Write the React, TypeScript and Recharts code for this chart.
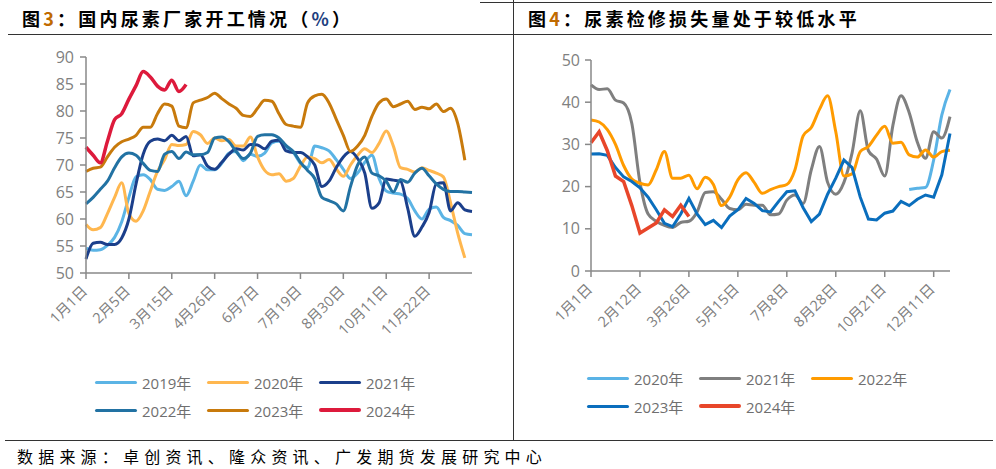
import { LineChart, Line, XAxis, YAxis } from 'recharts';

// 图3 横轴（周度）
const leftDates = [
  '1月1日', '1月8日', '1月15日', '1月22日', '1月29日', '2月1日', '2月5日', '2月12日', '2月19日', '2月26日',
  '3月1日', '3月8日', '3月15日', '3月22日', '3月29日', '4月5日', '4月12日', '4月19日', '4月26日', '5月3日',
  '5月10日', '5月17日', '5月24日', '5月31日', '6月7日', '6月14日', '6月21日', '6月28日', '7月5日', '7月12日',
  '7月19日', '7月26日', '8月2日', '8月9日', '8月16日', '8月23日', '8月30日', '9月6日', '9月13日', '9月20日',
  '9月27日', '10月4日', '10月11日', '10月18日', '10月25日', '11月1日', '11月8日', '11月15日', '11月22日', '11月29日',
  '12月6日', '12月13日', '12月20日', '12月27日', '12月31日',
];
const leftTickDates = ['1月1日', '2月5日', '3月15日', '4月26日', '6月7日', '7月19日', '8月30日', '10月11日', '11月22日'];

const rate2019 = [
  54.6, 54.2, 54.3, 55.1, 56.6, 59.5, 64, 67.8, 68.2, 67.3, 65.5, 65.3, 66, 67, 64.3, 67, 70, 69.1, 69.1, 70.3,
  72.2, 72.5, 70.8, 72, 71.6, 72.2, 74.1, 74.4, 73.3, 72.3, 70.3, 69.5, 73.5, 73.2, 72.6, 71, 69.2, 67.5, 68.5, 70.5,
  71.8, 67.5, 65.2, 64.8, 64.6, 63.8, 61.5, 60, 61.8, 62.2, 60.3, 59.7, 58.8, 57.3, 57.1,
];
const rate2020 = [
  59, 58, 58.4, 61, 64, 66.7, 61, 59.6, 61.5, 65.2, 68.8, 71, 73.8, 73.6, 73.8, 76.2, 75.6, 74, 75, 74.5,
  74.7, 73.5, 73.5, 75.2, 71.5, 69, 68.2, 68.4, 67, 67.5, 69.8, 71.5, 71.2, 70.4, 71, 69.3, 67.9, 70, 71.8, 73,
  72.3, 74, 76.3, 73.5, 69.5, 69.2, 68.7, 69.5, 69, 68.5, 67.8, 63, 57.4, 52.8, null,
];
const rate2021 = [
  52.6, 55.5, 55.7, 55.3, 55.3, 56.5, 60, 66.5, 72, 74.4, 74.8, 74.5, 75.5, 74.5, 75.3, 71.7, 71.9, 69.8, 69.2, 70.5,
  72, 73, 72.8, 73.8, 73.7, 73, 74.4, 74.6, 72.6, 72.3, 72.3, 71.5, 70, 66, 67, 69.5, 71.5, 72.5, 71.2, 68.5,
  62, 63, 67.4, 67.2, 67, 62, 56.8, 58.5, 61.2, 66.5, 66.7, 61.5, 63, 61.7, 61.4,
];
const rate2022 = [
  62.8, 64, 65.5, 67, 69.5, 71.5, 72.2, 71.8, 70.3, 69, 68.8, 72, 72.5, 71.2, 72.4, 71.9, 71.9, 72.3, 75, 75.2,
  74.3, 72.5, 71.2, 72.2, 75.3, 75.6, 75.6, 75, 73.6, 72.5, 70.5, 69, 67.5, 64, 63.4, 62.8, 61.5, 66, 70, 71.5,
  68.5, 68, 67, 65, 67.3, 66.8, 68.5, 69.4, 68, 66.5, 65.5, 65.1, 65.1, 65, 64.9,
];
const rate2023 = [
  68.8, 69.4, 69.6, 71.5, 73.3, 74.3, 74.8, 75.5, 77, 77, 79.5, 81.3, 80.9, 77.2, 76.9, 81.5, 82, 82.5, 83.3, 82.3,
  81.3, 80.5, 79.2, 79, 80.5, 82, 81.8, 79.5, 77.5, 77.2, 77, 81.5, 82.8, 83.1, 81.5, 78.5, 75.5, 72.5, 73.5, 75.5,
  79, 81.5, 82.2, 80.8, 81.3, 81.8, 80.3, 80.7, 80.4, 81.3, 79.9, 80.5, 77.7, 70.9, null,
];
const rate2024 = [73.3, 71.8, 70.4, 74.4, 78.4, 79.5, 82.2, 84.7, 87.3, 86.3, 84.6, 83.9, 85.7, 83.6, 84.9];

// 图4 横轴
const rightDates = [
  '1月1日', '1月8日', '1月15日', '1月22日', '1月29日', '2月5日', '2月12日', '2月19日', '2月26日', '3月5日',
  '3月12日', '3月19日', '3月26日', '4月2日', '4月9日', '4月16日', '4月23日', '5月7日', '5月15日', '5月22日',
  '5月29日', '6月5日', '6月19日', '6月26日', '7月8日', '7月15日', '7月22日', '7月29日', '8月12日', '8月21日',
  '8月28日', '9月4日', '9月11日', '9月18日', '10月9日', '10月14日', '10月21日', '10月28日', '11月4日', '11月11日',
  '11月18日', '11月25日', '12月11日', '12月18日', '12月25日',
];
const rightTickDates = ['1月1日', '2月12日', '3月26日', '5月15日', '7月8日', '8月28日', '10月21日', '12月11日'];

const loss2020 = [
  null, null, null, null, null, null, null, null, null, null, null, null, null, null, null, null, null, null, null, null,
  null, null, null, null, null, null, null, null, null, null, null, null, null, null, null, null, null, null, null, 19.3,
  19.6, 19.8, 26.3, 37, 43,
];
const loss2021 = [
  44.1, 43, 43.2, 40.5, 39.8, 35, 21, 13.5, 11.8, 10.8, 10.3, 11.5, 11.8, 14, 18.6, 18.8, 17, 14.8, 14.5, 15.8,
  15.6, 15.6, 13.3, 13.5, 16.8, 18, 16, 24, 29.5, 21, 18.2, 21, 28, 38, 28.5, 26.5, 22.5, 34.5, 41.5, 37.5,
  30.5, 26.7, 33, 31.5, 36.6,
];
const loss2022 = [
  35.8, 35.3, 33.5, 30, 25, 21.8, 20.8, 20.4, 24, 28.3, 22, 22, 22.7, 19.5, 22.2, 20.5, 15.5, 17.5, 21.6, 23.3,
  21, 18.4, 19.3, 20, 20.5, 24, 32, 34, 38.3, 41.5, 33, 22.5, 23, 28.3, 29.5, 32.2, 34.3, 30.3, 30.5, 27.5,
  27, 28.7, 27, 28.3, 28.6,
];
const loss2023 = [
  27.7, 27.8, 27.4, 24.5, 22.3, 21.2, 19.7, 17.5, 14.5, 11.3, 10.5, 13.5, 17.2, 13.5, 11, 12, 10.3, 13, 14.5, 17.2,
  16, 14.3, 14, 16.5, 18.8, 19, 15, 11.7, 13.5, 18.2, 22, 26.3, 24.5, 17.5, 12.3, 12.1, 13.7, 14.2, 16.5, 15.5,
  17, 18, 17.5, 22.8, 32.6,
];
const loss2024 = [30.4, 33, 28.5, 22.5, 21.2, 15.5, 9, 10.2, 11.4, 14.5, 12.9, 15.6, 12.9];

const leftTicks = [50, 55, 60, 65, 70, 75, 80, 85, 90];
const rightTicks = [0, 5, 10, 15, 20, 25, 30, 35, 40, 45, 50];

const leftSeries = [
  { key: 'y2019', name: '2019年', values: rate2019, color: '#5BB4E5', width: 3 },
  { key: 'y2020', name: '2020年', values: rate2020, color: '#FFB74F', width: 3 },
  { key: 'y2021', name: '2021年', values: rate2021, color: '#1B3F8B', width: 3 },
  { key: 'y2022', name: '2022年', values: rate2022, color: '#2272A3', width: 3 },
  { key: 'y2023', name: '2023年', values: rate2023, color: '#C87A0C', width: 3 },
  { key: 'y2024', name: '2024年', values: rate2024, color: '#DD1A3C', width: 3.5 },
];

const rightSeries = [
  { key: 'y2020', name: '2020年', values: loss2020, color: '#5AB3E6', width: 3, curve: 'monotone' },
  { key: 'y2021', name: '2021年', values: loss2021, color: '#7F7F7F', width: 3, curve: 'monotone' },
  { key: 'y2022', name: '2022年', values: loss2022, color: '#FF9B00', width: 3, curve: 'monotone' },
  { key: 'y2023', name: '2023年', values: loss2023, color: '#0A6EBD', width: 3, curve: 'linear' },
  { key: 'y2024', name: '2024年', values: loss2024, color: '#E8462A', width: 3.5, curve: 'linear' },
];

const leftData = leftDates.map((date, i) => {
  const row: Record<string, string | number | null> = { date };
  leftSeries.forEach((s) => (row[s.key] = s.values[i] ?? null));
  return row;
});

const rightData = rightDates.map((date, i) => {
  const row: Record<string, string | number | null> = { date };
  rightSeries.forEach((s) => (row[s.key] = s.values[i] ?? null));
  return row;
});

const AXIS = '#888888';
const TICK_TEXT = '#808080';
const FONT = '"Open Sans", "Noto Sans CJK SC", sans-serif';
const CJK = '"Noto Sans CJK SC", sans-serif';

function DateTick({ x, y, payload }: { x?: number; y?: number; payload?: { value: string } }) {
  return (
    <g transform={`translate(${x},${(y ?? 0) + 6})`}>
      <text
        transform="rotate(-45)"
        textAnchor="end"
        dy="0.35em"
        dx={-2}
        fill={TICK_TEXT}
        fontSize={14.5}
        fontFamily={FONT}
      >
        {payload?.value}
      </text>
    </g>
  );
}

function LegendBlock({ items, left, top }: { items: { name: string; color: string; width: number }[]; left: number; top: number }) {
  return (
    <div style={{ position: 'absolute', left, top, width: 340, display: 'flex', flexWrap: 'wrap', rowGap: 6 }}>
      {items.map((s) => (
        <div key={s.name} style={{ width: 112, display: 'flex', alignItems: 'center', height: 22 }}>
          <span style={{ display: 'inline-block', width: 42, height: s.width, background: s.color, borderRadius: 2 }} />
          <span style={{ marginLeft: 5, fontSize: 15, color: '#6F6F6F', fontFamily: FONT }}>{s.name}</span>
        </div>
      ))}
    </div>
  );
}

const titleStyle: React.CSSProperties = {
  position: 'absolute',
  top: 5,
  fontFamily: CJK,
  fontWeight: 700,
  fontSize: 18,
  letterSpacing: 3.2,
  color: '#000',
  whiteSpace: 'nowrap',
};

export default function App() {
  return (
    <div style={{ position: 'fixed', left: 0, top: 0, width: 996, height: 469, background: '#fff', overflow: 'hidden' }}>
      {/* 框线 */}
      <div style={{ position: 'absolute', left: 480, top: 2, width: 512, height: 1, background: '#333' }} />
      <div style={{ position: 'absolute', left: 8, top: 34, width: 984, height: 1, background: '#333' }} />
      <div style={{ position: 'absolute', left: 513, top: 0, width: 1, height: 440, background: '#333' }} />
      <div style={{ position: 'absolute', left: 5, top: 440, width: 988, height: 1, background: '#333' }} />

      <div style={{ ...titleStyle, left: 22 }}>
        图<span style={{ color: '#C06A00' }}>3</span>：国内尿素厂家开工情况（<span style={{ color: '#1F3F7F' }}>%</span>）
      </div>
      <div style={{ ...titleStyle, left: 528 }}>
        图<span style={{ color: '#C06A00' }}>4</span>：尿素检修损失量处于较低水平
      </div>

      {/* 图3 */}
      <div style={{ position: 'absolute', left: 0, top: 0 }}>
        <LineChart width={510} height={440} data={leftData} margin={{ top: 57, right: 38, left: 0, bottom: 107 }}>
          <XAxis
            dataKey="date"
            ticks={leftTickDates}
            interval={0}
            tick={<DateTick />}
            tickSize={6}
            stroke={AXIS}
            strokeWidth={1.5}
            height={60}
          />
          <YAxis
            domain={[50, 90]}
            ticks={leftTicks}
            width={86}
            tickSize={6}
            tickMargin={6}
            stroke={AXIS}
            strokeWidth={1.5}
            tick={{ fill: TICK_TEXT, fontSize: 16, fontFamily: FONT }}
          />
          {leftSeries.map((s) => (
            <Line
              key={s.key}
              type="monotone"
              dataKey={s.key}
              name={s.name}
              stroke={s.color}
              strokeWidth={s.width}
              dot={false}
              isAnimationActive={false}
            />
          ))}
        </LineChart>
      </div>
      <LegendBlock items={leftSeries} left={95} top={371} />

      {/* 图4 */}
      <div style={{ position: 'absolute', left: 514, top: 0 }}>
        <LineChart width={482} height={440} data={rightData} margin={{ top: 60, right: 46, left: 0, bottom: 109 }}>
          <XAxis
            dataKey="date"
            ticks={rightTickDates}
            interval={0}
            tick={<DateTick />}
            tickSize={6}
            stroke={AXIS}
            strokeWidth={1.5}
            height={60}
          />
          <YAxis
            domain={[0, 50]}
            ticks={rightTicks}
            width={77}
            tickSize={6}
            tickMargin={5}
            stroke={AXIS}
            strokeWidth={1.5}
            tick={{ fill: TICK_TEXT, fontSize: 16, fontFamily: FONT }}
          />
          {rightSeries.map((s) => (
            <Line
              key={s.key}
              type={s.curve as 'monotone' | 'linear'}
              dataKey={s.key}
              name={s.name}
              stroke={s.color}
              strokeWidth={s.width}
              dot={false}
              isAnimationActive={false}
            />
          ))}
        </LineChart>
      </div>
      <LegendBlock items={rightSeries} left={587} top={367} />

      <div
        style={{
          position: 'absolute',
          left: 17,
          top: 444,
          fontFamily: CJK,
          fontSize: 16,
          letterSpacing: 5.2,
          color: '#000',
          whiteSpace: 'nowrap',
        }}
      >
        数据来源：卓创资讯、隆众资讯、广发期货发展研究中心
      </div>
    </div>
  );
}
